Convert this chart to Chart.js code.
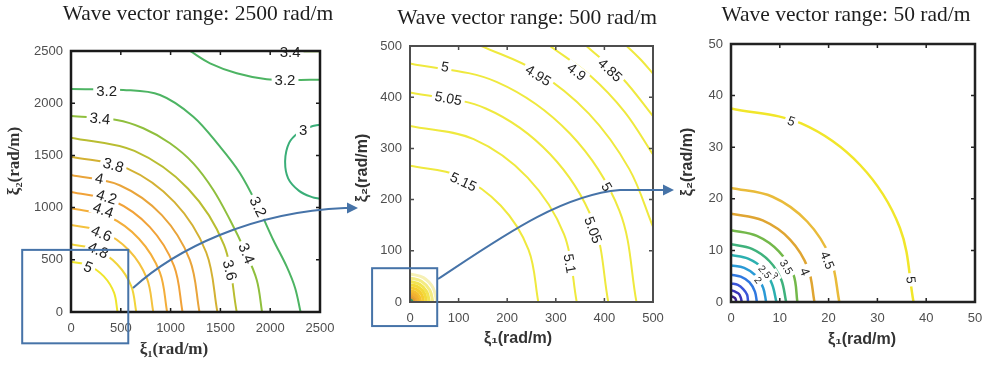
<!DOCTYPE html>
<html>
<head>
<meta charset="utf-8">
<script src="https://cdn.jsdelivr.net/npm/chart.js@4.4.0/dist/chart.umd.min.js"></script>
<style>
  body { margin: 0; background: #fff; width: 985px; height: 366px; overflow: hidden; position: relative; }
  canvas { position: absolute; top: 0; }
  #overlay { pointer-events: none; }
</style>
</head>
<body>
<canvas id="p1" width="345" height="366" style="left:0px"></canvas>
<canvas id="p2" width="345" height="366" style="left:330px"></canvas>
<canvas id="p3" width="330" height="366" style="left:655px"></canvas>
<canvas id="overlay" width="985" height="366" style="left:0px"></canvas>
<script>
// ---------- panel 1 : wave vector range 2500 rad/m ----------
const p1Ticks = [0, 500, 1000, 1500, 2000, 2500];
const p1Lines = [
  [[0,482],[179,445],[330,341],[432,185],[467,0]],                 // 5
  [[0,648],[251,599],[463,458],[605,248],[655,0]],                 // 4.8
  [[0,833],[316,770],[584,589],[763,319],[826,0]],                 // 4.6
  [[0,993],[370,917],[682,702],[892,380],[965,0]],                 // 4.4
  [[0,1150],[429,1063],[792,813],[1035,440],[1120,0]],             // 4.2
  [[0,1312],[494,1212],[912,928],[1192,502],[1290,0]],             // 4
  [[0,1488],[563,1375],[1039,1052],[1358,570],[1470,0]],           // 3.8
  [[0,1670],[637,1543],[1176,1181],[1537,640],[1664,0]],           // 3.6
  [[0,1877],[459,1839],[726,1760],[994,1616],[1228,1424],[1429,1169],[1597,881],[1740,600],[1865,307],[1918,0]], // 3.4
  [[0,2135],[525,2127],[894,2079],[1228,1871],[1496,1583],[1697,1329],[1877,1009],[2031,690],[2166,434],[2250,230],[2305,0]], // 3.2
  [[1195,2500],[1396,2382],[1664,2287],[1965,2229],[2200,2222],[2500,2225]], // 3.2 top right
  [[2330,2497],[2500,2497]],                                        // 3.4 top edge
  [[2500,1795],[2400,1772],[2280,1715],[2190,1620],[2150,1450],[2180,1280],[2290,1160],[2420,1100],[2500,1085]] // 3
];
const p1Colors = ['#efe52c', '#f1d43a', '#f4c23e', '#f3ae3a', '#f1a238', '#e9a43a',
                  '#d3b133', '#b9bd31', '#8fbf3d', '#4db463', '#4db463', '#8fbf3d', '#3aae78'];
// text, x, y, rotation (deg)
const p1Labels = [
  ['3.2', 358, 2120, 0], ['3.4', 291, 1855, 5], ['3.8', 425, 1408, 16], ['4', 284, 1281, 12],
  ['4.2', 358, 1104, 18], ['4.4', 325, 977, 20], ['4.6', 308, 754, 23], ['4.8', 274, 594, 25],
  ['5', 174, 434, 22], ['3.2', 1880, 1009, 63], ['3.4', 1764, 562, 68], ['3.6', 1597, 402, 76],
  ['3.2', 2149, 2222, 0], ['3', 2330, 1745, 0], ['3.4', 2200, 2494, 0]
];

// ---------- panel 2 : wave vector range 500 rad/m ----------
const p2Ticks = [0, 100, 200, 300, 400, 500];
const p2Lines = [
  [[0,266],[101,246],[187,188],[244,102],[264,0]],   // 5.15
  [[0,344],[131,318],[242,243],[317,132],[343,0]],   // 5.1
  [[0,409],[156,378],[288,289],[377,157],[408,0]],   // 5.05
  [[0,466],[178,430],[329,329],[431,178],[466,0]],   // 5
  [[147,500],[260,451],[368,368],[451,260],[500,147]], // 4.95
  [[288,500],[371,442],[442,371],[500,288]],         // 4.9
  [[363,500],[437,437],[500,363]],                   // 4.85
  [[446,500],[474,474],[500,446]]                    // 4.8
];
const p2Colors = ['#efe93e', '#efe93e', '#efe93e', '#efe93e', '#efe93e', '#efe93e', '#efe93e', '#efe93e'];
// the dense contours squeezed near the origin
const p2Core = [
  [[0,4],[2,3.5],[3.5,2],[4,0]],
  [[0,8],[4,6.9],[6.9,4],[8,0]],
  [[0,12],[6,10.4],[10.4,6],[12,0]],
  [[0,17],[8.5,14.7],[14.7,8.5],[17,0]],
  [[0,22],[11,19],[19,11],[22,0]],
  [[0,28],[14,24.2],[24.2,14],[28,0]],
  [[0,34],[17,29.4],[29.4,17],[34,0]],
  [[0,40],[20,34.6],[34.6,20],[40,0]],
  [[0,47],[23.5,40.7],[40.7,23.5],[47,0]],
  [[0,55],[27.5,47.6],[47.6,27.5],[55,0]]
];
const p2CoreColors = ['#3a9a5a', '#e29c30', '#eca632', '#f2b330', '#f5c030', '#f5cd30',
                      '#f3da3a', '#f2e452', '#f3eb82', '#f6f0b4'];
const p2Labels = [
  ['5', 72, 460, 9], ['5.05', 79, 398, 11], ['5.15', 110, 235, 25],
  ['4.95', 264, 443, 32], ['4.9', 343, 450, 38], ['4.85', 412, 453, 43],
  ['5', 405, 225, 60], ['5.05', 377, 141, 70], ['5.1', 329, 75, 80]
];

// ---------- panel 3 : wave vector range 50 rad/m ----------
const p3Ticks = [0, 10, 20, 30, 40, 50];
const p3Lines = [
  [[0,37.5],[14.4,34.6],[26.5,26.5],[34.6,14.4],[37.4,0]],  // 5
  [[0,22.1],[8.5,20.4],[15.6,15.6],[20.4,8.5],[22.2,0]],    // 4.5
  [[0,17.1],[6.5,15.8],[12.1,12.1],[15.8,6.5],[17.1,0]],    // 4
  [[0,13.9],[5.3,12.8],[9.8,9.8],[12.8,5.3],[13.6,0]],      // 3.5
  [[0,11.2],[4.3,10.3],[7.9,7.9],[10.3,4.3],[11.3,0]],      // 3
  [[0,9.1],[3.5,8.4],[6.5,6.5],[8.4,3.5],[9.3,0]],          // 2.5
  [[0,7.1],[2.7,6.6],[5.1,5.1],[6.6,2.7],[7.2,0]],          // 2
  [[0,5.3],[2.0,4.9],[3.8,3.8],[4.9,2.0],[5.3,0]],          // 1.5
  [[0,3.6],[1.4,3.3],[2.5,2.5],[3.3,1.4],[3.5,0]],          // 1
  [[0,2.3],[0.85,2.0],[1.6,1.6],[2.0,0.85],[2.2,0]],        // 0.5
  [[0,1.1],[0.42,1.0],[0.78,0.78],[1.0,0.42],[1.05,0]]      // 0
];
const p3Colors = ['#f1e62a', '#e9bb3a', '#dfa532', '#73b84a', '#3fb27c', '#2cb0b0',
                  '#2a9ad6', '#2f78e0', '#3a55d8', '#3a33b8', '#3a1f8c'];
const p3Labels = [
  ['5', 12.4, 35.1, 20, 13], ['5', 36.9, 4.3, 84, 13], ['4.5', 19.8, 8.1, 68, 13],
  ['4', 15.2, 5.9, 68, 13], ['3.5', 11.4, 6.8, 58, 11], ['3', 9.0, 5.2, 60, 10],
  ['2.5', 7.0, 5.9, 50, 10], ['2', 5.6, 4.3, 52, 10]
];

const sans = '"Liberation Sans", Arial, sans-serif';
const serif = '"Liberation Serif", "Times New Roman", serif';

function axis(ticks, fit, isX, pad) {
  return {
    type: 'linear',
    min: ticks[0],
    max: ticks[ticks.length - 1],
    afterBuildTicks: s => { s.ticks = ticks.map(v => ({ value: v })); },
    ticks: { color: '#4f4f4f', font: { family: sans, size: 13 }, padding: pad,
             maxRotation: 0, autoSkip: false, callback: v => String(v) },
    grid: { display: false, drawTicks: false },
    border: { display: false },
    afterFit: s => {
      if (isX) s.height = fit; else s.width = fit;
      s.paddingLeft = s.paddingRight = s.paddingTop = s.paddingBottom = 0;
    }
  };
}

function decor(cfg) {
  return {
    id: 'decor',
    afterDatasetsDraw(chart) {
      const ctx = chart.ctx, a = chart.chartArea, xs = chart.scales.x, ys = chart.scales.y;
      // inline contour labels with a gap in the line
      cfg.labels.forEach(l => {
        const size = l[4] || cfg.labelSize;
        ctx.save();
        ctx.translate(xs.getPixelForValue(l[1]), ys.getPixelForValue(l[2]));
        ctx.rotate(l[3] * Math.PI / 180);
        ctx.font = size + 'px ' + sans;
        const w = ctx.measureText(l[0]).width;
        ctx.fillStyle = '#fff';
        ctx.fillRect(-w / 2 - 3, -size * 0.45, w + 6, size * 0.9);
        ctx.fillStyle = '#222';
        ctx.textAlign = 'center';
        ctx.textBaseline = 'middle';
        ctx.fillText(l[0], 0, 1);
        ctx.restore();
      });
      // axes box with inward tick marks
      ctx.save();
      ctx.strokeStyle = cfg.boxColor;
      ctx.lineWidth = cfg.boxWidth;
      ctx.strokeRect(a.left, a.top, a.right - a.left, a.bottom - a.top);
      ctx.lineWidth = 1.5;
      ctx.beginPath();
      xs.ticks.forEach(t => {
        const x = xs.getPixelForValue(t.value);
        ctx.moveTo(x, a.bottom); ctx.lineTo(x, a.bottom - 4);
        ctx.moveTo(x, a.top); ctx.lineTo(x, a.top + 4);
      });
      ys.ticks.forEach(t => {
        const y = ys.getPixelForValue(t.value);
        ctx.moveTo(a.left, y); ctx.lineTo(a.left + 4, y);
        ctx.moveTo(a.right, y); ctx.lineTo(a.right - 4, y);
      });
      ctx.stroke();
      ctx.restore();
    },
    afterDraw(chart) {
      const ctx = chart.ctx;
      ctx.save();
      ctx.fillStyle = '#1e1e1e';
      ctx.textAlign = 'center';
      ctx.textBaseline = 'middle';
      ctx.font = '21.5px ' + serif;
      ctx.fillText(cfg.title, cfg.titlePos[0], cfg.titlePos[1]);
      ctx.fillStyle = '#333';
      ctx.font = cfg.axisFont;
      ctx.fillText('ξ₁(rad/m)', cfg.xTitlePos[0], cfg.xTitlePos[1]);
      ctx.translate(cfg.yTitlePos[0], cfg.yTitlePos[1]);
      ctx.rotate(-Math.PI / 2);
      ctx.fillText('ξ₂(rad/m)', 0, 0);
      ctx.restore();
    }
  };
}

function sets(lines, colors, width) {
  return lines.map((pts, i) => ({
    data: pts.map(p => ({ x: p[0], y: p[1] })),
    showLine: true,
    borderColor: colors[i],
    borderWidth: width,
    pointRadius: 0,
    tension: 0.35,
    fill: false
  }));
}

function makePanel(id, ticks, datasets, lay, cfg) {
  return new Chart(document.getElementById(id), {
    type: 'scatter',
    data: { datasets: datasets },
    options: {
      responsive: false,
      animation: false,
      devicePixelRatio: 1,
      layout: { padding: lay.padding },
      plugins: { legend: { display: false }, tooltip: { enabled: false } },
      scales: {
        x: axis(ticks, 30, true, 9),
        y: axis(ticks, lay.yWidth, false, 8)
      }
    },
    plugins: [decor(cfg)]
  });
}

const chart1 = makePanel('p1', p1Ticks, sets(p1Lines, p1Colors, 2),
  { padding: { left: 0, top: 51, right: 25, bottom: 24 }, yWidth: 71 },
  { labels: p1Labels, labelSize: 15, boxColor: '#1a1a1a', boxWidth: 2.5,
    title: 'Wave vector range: 2500 rad/m', titlePos: [198, 14],
    axisFont: 'bold 17px ' + serif, xTitlePos: [174, 350], yTitlePos: [15, 161] });

const chart2 = makePanel('p2', p2Ticks,
  sets(p2Core, p2CoreColors, 3).concat(sets(p2Lines, p2Colors, 2)),
  { padding: { left: 0, top: 46, right: 22, bottom: 34 }, yWidth: 80 },
  { labels: p2Labels, labelSize: 14, boxColor: '#4d4d4d', boxWidth: 2,
    title: 'Wave vector range: 500 rad/m', titlePos: [197, 18],
    axisFont: 'bold 16px ' + sans, xTitlePos: [188, 339], yTitlePos: [33, 168] });

const chart3 = makePanel('p3', p3Ticks, sets(p3Lines, p3Colors, 2.5),
  { padding: { left: 0, top: 44, right: 10, bottom: 34 }, yWidth: 76 },
  { labels: p3Labels, labelSize: 13, boxColor: '#222', boxWidth: 2.5,
    title: 'Wave vector range: 50 rad/m', titlePos: [191, 15],
    axisFont: 'bold 16px ' + sans, xTitlePos: [207, 340], yTitlePos: [33, 162] });

// ---------- zoom boxes and arrows linking the panels ----------
const ov = document.getElementById('overlay').getContext('2d');
const linkBlue = '#4673a8';

function zoomBox(chart, left, x0, x1, y0, y1) {
  const xs = chart.scales.x, ys = chart.scales.y;
  const px0 = left + xs.getPixelForValue(x0), px1 = left + xs.getPixelForValue(x1);
  const py0 = ys.getPixelForValue(y1), py1 = ys.getPixelForValue(y0);
  ov.strokeStyle = linkBlue;
  ov.lineWidth = 2;
  ov.strokeRect(px0, py0, px1 - px0, py1 - py0);
}

function arrow(p0, c1, c2, p1, tip) {
  ov.strokeStyle = linkBlue;
  ov.fillStyle = linkBlue;
  ov.lineWidth = 2;
  ov.beginPath();
  ov.moveTo(p0[0], p0[1]);
  ov.bezierCurveTo(c1[0], c1[1], c2[0], c2[1], p1[0], p1[1]);
  ov.lineTo(tip[0] - 9, tip[1]);
  ov.stroke();
  ov.beginPath();
  ov.moveTo(tip[0], tip[1]);
  ov.lineTo(tip[0] - 11, tip[1] - 5.5);
  ov.lineTo(tip[0] - 11, tip[1] + 5.5);
  ov.closePath();
  ov.fill();
}

zoomBox(chart1, 0, -490, 575, -300, 595);
zoomBox(chart2, 330, -78, 56, -47, 66);
arrow([133, 288], [175, 250], [250, 212], [345, 208], [358, 208]);
arrow([438, 279], [500, 238], [560, 195], [620, 190], [674, 190]);
</script>
</body>
</html>
